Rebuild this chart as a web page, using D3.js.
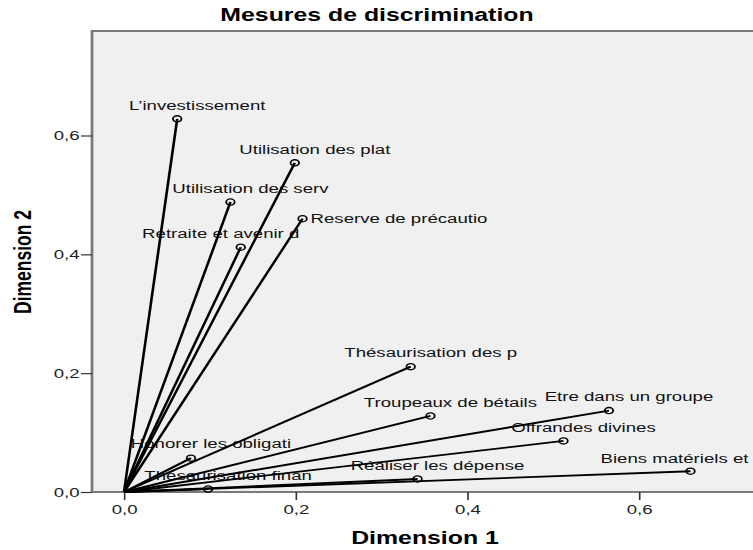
<!DOCTYPE html>
<html>
<head>
<meta charset="utf-8">
<script src="https://cdn.jsdelivr.net/npm/d3@7"></script>
<style>
  body { margin: 0; background: #fff; }
  text { font-family: "Liberation Sans", Arial, sans-serif; }
</style>
</head>
<body>
<div id="chart"></div>
<script>
// variable names and their discrimination measures
var variables = ["L’investissement", "Utilisation des plat", "Utilisation des serv", "Reserve de précautio",
  "Retraite et avenir d", "Thésaurisation des p", "Troupeaux de bétails", "Etre dans un groupe",
  "Offrandes divines", "Biens matériels et", "Réaliser les dépense", "Honorer les obligati", "Thésaurisation finan"];
var dim1 = [0.062, 0.199, 0.124, 0.208, 0.136, 0.334, 0.357, 0.565, 0.512, 0.660, 0.342, 0.078, 0.098];
var dim2 = [0.628, 0.554, 0.488, 0.460, 0.412, 0.211, 0.128, 0.137, 0.086, 0.035, 0.022, 0.057, 0.005];
var tickVals = [0, 0.2, 0.4, 0.6];

// label placement tweaks (px, relative to the point)
var labelDx = [14.5, 14.5, 14.5, 5.8, -14.5, 14.5, 14.5, 14.5, 14.5, -11.6, 14.5, 14.5, 14.5];
var labelDy = [-14, -14, -14, 0, -14, -14, -14, -14, -14, -13, -14, -15, -14];
var labelAnchor = ["middle", "middle", "middle", "start", "middle", "middle", "middle", "middle", "middle", "middle", "middle", "middle", "middle"];

var W = 753, H = 550;
var S = 1.38; // the picture is stretched horizontally

var svg = d3.select("#chart").append("svg").attr("width", W).attr("height", H);
var g = svg.append("g").attr("transform", "scale(" + S + ",1)");

var x = d3.scaleLinear().domain([0, 0.6]).range([124 / S, 639 / S]);
var y = d3.scaleLinear().domain([0, 0.6]).range([492, 135.5]);

var pLeft = 92 / S, pRight = 760 / S, pTop = 31, pBottom = 492;

// plot area
g.append("rect").attr("x", pLeft).attr("y", pTop).attr("width", pRight - pLeft).attr("height", pBottom - pTop)
  .attr("fill", "#f0f0f0").attr("stroke", "none");
g.append("path").attr("d", "M" + pRight + "," + pTop + "H" + pLeft + "V" + pBottom + "H" + pRight)
  .attr("fill", "none").attr("stroke", "#7a7a7a").attr("stroke-width", 2);

var fmt = function(d) { return d3.format(".1f")(d).replace(".", ","); };

var xAxis = g.append("g").attr("transform", "translate(0," + pBottom + ")")
  .call(d3.axisBottom(x).tickValues(tickVals).tickFormat(fmt).tickSize(8).tickPadding(4));
var yAxis = g.append("g").attr("transform", "translate(" + pLeft + ",0)")
  .call(d3.axisLeft(y).tickValues(tickVals).tickFormat(fmt).tickSize(8).tickPadding(1));
[xAxis, yAxis].forEach(function(a) {
  a.select(".domain").remove();
  a.selectAll(".tick line").attr("stroke", "#333").attr("stroke-width", 1.2);
  a.selectAll(".tick text").attr("font-size", 13.5).attr("fill", "#222")
    .style("font-family", "'Liberation Sans', Arial, sans-serif");
});

// titles
g.append("text").attr("x", 377 / S).attr("y", 15).attr("dy", "0.35em").attr("text-anchor", "middle")
  .attr("font-size", 18).attr("font-weight", "bold").text("Mesures de discrimination");
g.append("text").attr("x", 425 / S).attr("y", 538).attr("dy", "0.35em").attr("text-anchor", "middle")
  .attr("font-size", 18).attr("font-weight", "bold").text("Dimension 1");
g.append("text").attr("transform", "translate(" + (23 / S) + ",262) rotate(-90)").attr("dy", "0.35em")
  .attr("text-anchor", "middle").attr("font-size", 17.5).attr("font-weight", "bold").text("Dimension 2");

var data = variables.map(function(v, i) { return { name: v, d1: dim1[i], d2: dim2[i], i: i }; });

// labels first, vectors are drawn over them
g.selectAll(".lbl").data(data).enter().append("text").attr("class", "lbl")
  .attr("x", function(d) { return x(d.d1) + labelDx[d.i]; })
  .attr("y", function(d) { return y(d.d2) + labelDy[d.i]; })
  .attr("dy", "0.35em").attr("text-anchor", function(d) { return labelAnchor[d.i]; })
  .attr("font-size", 13.5).attr("fill", "#111").text(function(d) { return d.name; });

g.selectAll(".vec").data(data).enter().append("line").attr("class", "vec")
  .attr("x1", x(0)).attr("y1", y(0))
  .attr("x2", function(d) { return x(d.d1); }).attr("y2", function(d) { return y(d.d2); })
  .attr("stroke", "#000").attr("stroke-width", 1.9);

g.selectAll(".pt").data(data).enter().append("circle").attr("class", "pt")
  .attr("cx", function(d) { return x(d.d1); }).attr("cy", function(d) { return y(d.d2); })
  .attr("r", 3.1).attr("fill", "#f0f0f0").attr("fill-opacity", 0).attr("stroke", "#000").attr("stroke-width", 1.3);
</script>
</body>
</html>
